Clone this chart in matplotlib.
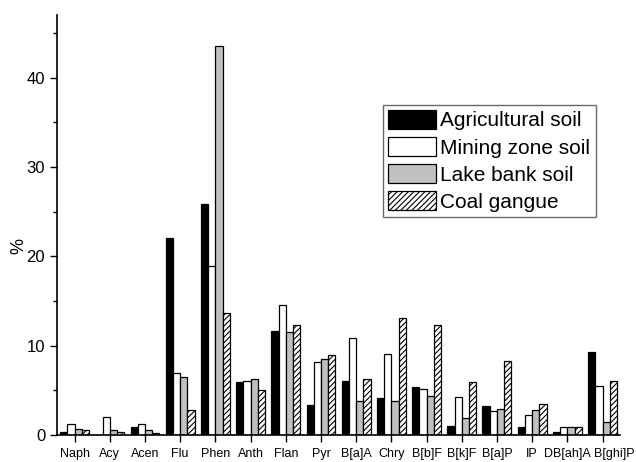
# Libraries
import numpy as np
import matplotlib.pyplot as plt
from matplotlib.transforms import ScaledTranslation

# Data
compounds = ['Naph', 'Acy', 'Acen', 'Flu', 'Phen', 'Anth', 'Flan', 'Pyr',
             'B[a]A', 'Chry', 'B[b]F', 'B[k]F', 'B[a]P', 'IP', 'DB[ah]A', 'B[ghi]P']
agricultural = [0.37, 0.05, 0.86, 22.0, 25.8, 5.9, 11.6, 3.36,
                6.04, 4.1, 5.4, 1.0, 3.2, 0.93, 0.3, 9.3]
mining = [1.25, 1.98, 1.2, 6.97, 18.9, 6.07, 14.6, 8.2,
          10.9, 9.08, 5.2, 4.2, 2.65, 2.24, 0.86, 5.48]
lake_bank = [0.63, 0.52, 0.52, 6.52, 43.5, 6.23, 11.55, 8.47,
             3.8, 3.8, 4.4, 1.94, 2.87, 2.8, 0.93, 1.5]
coal_gangue = [0.6, 0.3, 0.22, 2.8, 13.7, 5.0, 12.3, 8.9,
               6.3, 13.1, 12.3, 5.9, 8.28, 3.47, 0.9, 6.04]

series = [('Agricultural soil', agricultural, 'black', ''),
          ('Mining zone soil', mining, 'white', ''),
          ('Lake bank soil', lake_bank, '#c0c0c0', ''),
          ('Coal gangue', coal_gangue, 'white', '//////')]

plt.rcParams['font.family'] = ['Liberation Sans', 'DejaVu Sans']
plt.rcParams['hatch.linewidth'] = 0.8

fig = plt.figure(figsize=(6.36, 4.62), dpi=100)
ax = fig.add_axes([0.0896, 0.0584, 0.8854, 0.909])

x = np.arange(len(compounds))
w = 0.205
for i, (name, vals, col, hatch) in enumerate(series):
    ax.bar(x + (i - 1.5) * w, vals, width=w, color=col, edgecolor='black',
           linewidth=0.9, hatch=hatch, label=name)

ax.set_xlim(-0.5, 15.5)
ax.set_ylim(0, 47)
ax.set_xticks(x)
ax.set_xticklabels(compounds, fontsize=9)
ax.set_yticks([0, 10, 20, 30, 40])
ax.set_yticks([5, 15, 25, 35, 45], minor=True)
ax.tick_params(axis='y', labelsize=12, length=5, width=1, direction='out')
ax.tick_params(axis='y', which='minor', length=3, width=1)
ax.tick_params(axis='x', length=5, width=1, direction='out', pad=4)
ax.set_ylabel('%', fontsize=13)
ax.yaxis.set_label_coords(-0.053, 0.45)
for s in ['top', 'right']:
    ax.spines[s].set_visible(False)
for s in ['left', 'bottom']:
    ax.spines[s].set_linewidth(1.2)

# last label sits a bit to the right, as in the original
last = ax.get_xticklabels()[-1]
last.set_transform(last.get_transform() + ScaledTranslation(12 / 100, 0, fig.dpi_scale_trans))

leg = ax.legend(loc='upper left', bbox_to_anchor=(0.579, 0.787), fontsize=15,
                handlelength=2.3, handleheight=1.05, handletextpad=0.2,
                labelspacing=0.3, borderpad=0.25, borderaxespad=0,
                fancybox=False, frameon=True)
leg.get_frame().set_edgecolor('#444444')
leg.get_frame().set_linewidth(1.0)

fig.savefig('out.png', dpi=100)
